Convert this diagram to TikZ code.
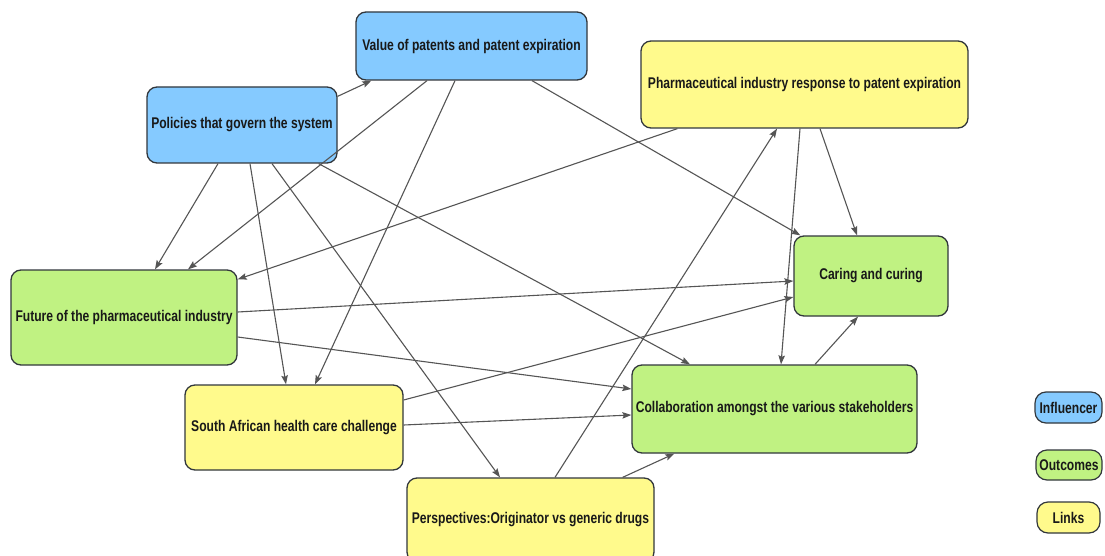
\documentclass[tikz,border=0pt]{standalone}
\usepackage{fontspec}
\setmainfont{Liberation Sans}[FakeStretch=0.78]
\usetikzlibrary{calc,arrows.meta}
\definecolor{blu}{RGB}{133,202,255}
\definecolor{grn}{RGB}{192,242,130}
\definecolor{ylw}{RGB}{255,250,140}
\definecolor{bord}{RGB}{50,55,60}
\definecolor{edg}{RGB}{85,85,85}
\tikzset{
  box/.style={draw=bord, line width=1.3pt, rounded corners=10pt, inner sep=0pt,
    font=\fontsize{15.5}{18}\selectfont\bfseries, text=black!90},
  infl/.style={box, fill=blu},
  outc/.style={box, fill=grn},
  lnk/.style={box, fill=ylw},
  leg/.style={box, line width=1.2pt, rounded corners=11pt},
  conn/.style={draw=edg, line width=1.1pt, -{Stealth[length=9pt,width=6.5pt,inset=1.5pt]}}
}
\begin{document}
\begin{tikzpicture}[x=1pt,y=-1pt]
\useasboundingbox (0,0) rectangle (1105,556);
\fill[white] (0,0) rectangle (1105,556);
% nodes
\node[infl, minimum width=231pt, minimum height=68pt] (V) at (471.5,46) {Value of patents and patent expiration};
\node[infl, minimum width=190pt, minimum height=76pt] (P) at (242,125) {Policies that govern the system};
\node[lnk, minimum width=327pt, minimum height=87pt] (R) at (804.5,84.5) {Pharmaceutical industry response to patent expiration};
\node[outc, minimum width=154pt, minimum height=80pt] (C) at (871,276) {Caring and curing};
\node[outc, minimum width=226pt, minimum height=95pt] (F) at (124,317.5) {Future of the pharmaceutical industry};
\node[lnk, minimum width=218pt, minimum height=85pt] (S) at (294,427.5) {South African health care challenge};
\node[outc, minimum width=285pt, minimum height=88pt] (K) at (774.5,409) {Collaboration amongst the various stakeholders};
\node[lnk, minimum width=247pt, minimum height=84pt] (Pe) at (530.5,520) {Perspectives:Originator vs generic drugs};
% legend
\node[leg, fill=blu, minimum width=67pt, minimum height=31pt] (L1) at (1068.5,407.5) {Influencer};
\node[leg, fill=grn, minimum width=66pt, minimum height=30pt] (L2) at (1069,465) {Outcomes};
\node[leg, fill=ylw, minimum width=63pt, minimum height=31pt] (L3) at (1068.5,517.5) {Links};
% connectors
\draw[conn] ($(P.north east)+(0,10)$) -- ($(V.south west)+(16,0)$);
\draw[conn] ($(V.south)+(-44.5,0)$) -- ($(F.north)+(64,0)$);
\draw[conn] ($(V.south)+(-16.5,0)$) -- ($(S.north)+(21,0)$);
\draw[conn] ($(V.south)+(60.5,0)$) -- ($(C.north west)+(7,0)$);
\draw[conn] ($(P.south)+(-24,0)$) -- ($(F.north)+(31,0)$);
\draw[conn] ($(P.south)+(8,0)$) -- ($(S.north)+(-8,0)$);
\draw[conn] ($(P.south)+(30,0)$) -- ($(Pe.north)+(-30.5,0)$);
\draw[conn] ($(P.south east)+(-19,0)$) -- ($(K.north)+(-84.5,0)$);
\draw[conn] ($(R.south west)+(37,0)$) -- ($(F.north east)+(0,10)$);
\draw[conn] ($(R.south)+(-4.5,0)$) -- ($(K.north)+(6.5,0)$);
\draw[conn] ($(R.south)+(15.5,0)$) -- ($(C.north)+(-14,0)$);
\draw[conn] ($(Pe.north)+(24.5,0)$) -- ($(R.south)+(-27.5,0)$);
\draw[conn] ($(F.east)+(0,-5.5)$) -- ($(C.west)+(0,5)$);
\draw[conn] ($(F.east)+(0,19.5)$) -- ($(K.west)+(0,-20)$);
\draw[conn] ($(S.east)+(0,-27.5)$) -- ($(C.west)+(0,21)$);
\draw[conn] ($(S.east)+(0,-2.5)$) -- ($(K.west)+(0,6)$);
\draw[conn] ($(Pe.north east)+(-32,0)$) -- ($(K.south west)+(43,0)$);
\draw[conn] ($(K.north)+(40.5,0)$) -- ($(C.south)+(-13,0)$);
\end{tikzpicture}
\end{document}
